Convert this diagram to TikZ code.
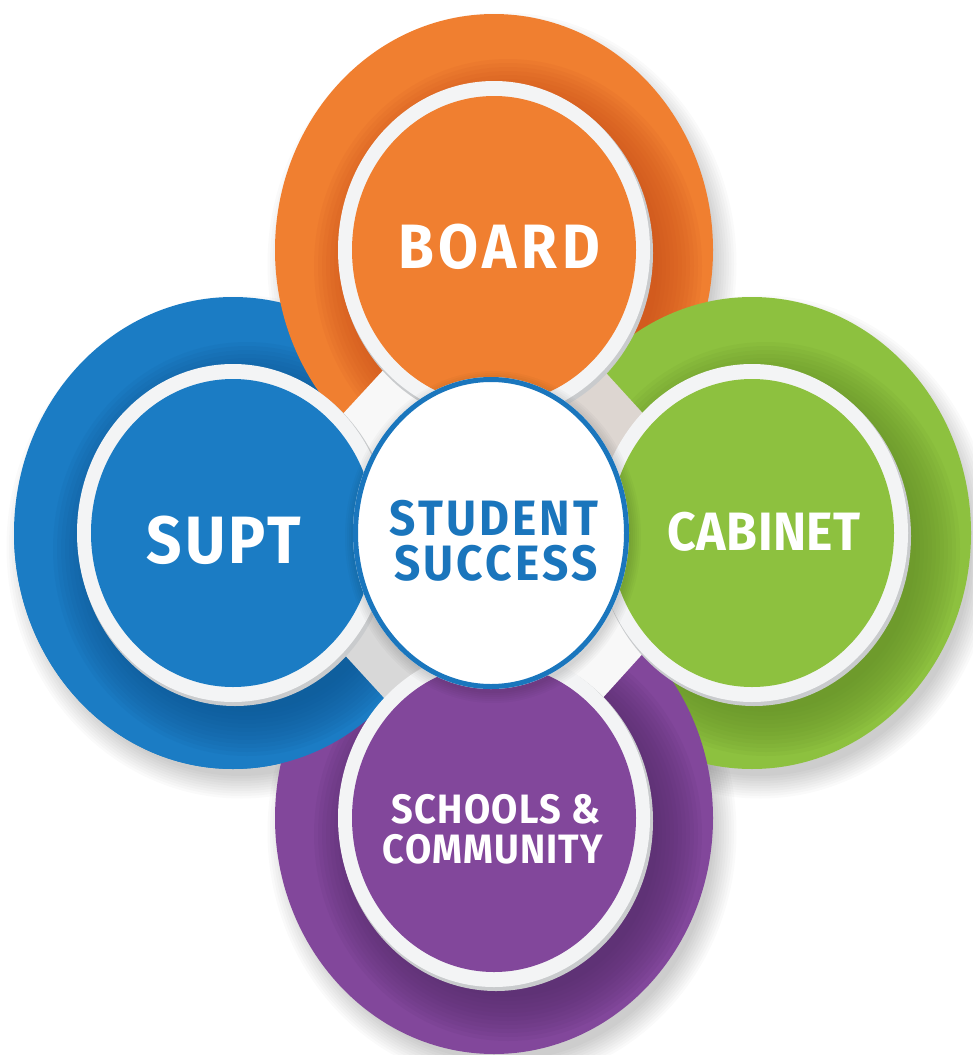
\documentclass[tikz,border=0pt]{standalone}
\usepackage{fontspec}
\setmainfont{Fira Sans}
\usepackage{graphicx}
\definecolor{corange}{HTML}{F07F30}
\definecolor{corangedark}{HTML}{C9501A}
\definecolor{cblue}{HTML}{1B7CC4}
\definecolor{cbluedark}{HTML}{0F5692}
\definecolor{cgreen}{HTML}{8DC13F}
\definecolor{cgreendark}{HTML}{648F28}
\definecolor{cpurple}{HTML}{82479B}
\definecolor{cpurpledark}{HTML}{552C6A}
\definecolor{ringwhite}{HTML}{F3F4F5}
\definecolor{ringgrey}{HTML}{C9CBCD}
\definecolor{cline}{HTML}{1A76BD}
\definecolor{ctext}{HTML}{1A75BC}
\definecolor{diamwhite}{HTML}{F8F8F8}
\definecolor{diamne}{HTML}{DDD6D1}
\definecolor{diamsw}{HTML}{D8D8D8}
\newcommand\outerdisc[4]{%
  \fill[#3] (#1,#2) ellipse [x radius=219pt, y radius=236pt];
  \begin{scope}
    \clip (#1,#2) ellipse [x radius=219pt, y radius=236pt];
    \foreach \k in {0,...,11} {%
      \pgfmathsetmacro\myrx{150+4*\k}\pgfmathsetmacro\myry{163+4*\k}%
      \fill[#4, opacity=0.09] (#1+14,#2+16) ellipse [x radius=\myrx pt, y radius=\myry pt];
    }
  \end{scope}}
\newcommand\innerdisc[3]{%
  \fill[ringgrey] (#1+2,#2+3) ellipse [x radius=157pt, y radius=170pt];
  \fill[ringwhite] (#1,#2) ellipse [x radius=156pt, y radius=169pt];
  \fill[#3] (#1,#2) ellipse [x radius=142pt, y radius=154pt];}
\newcommand\lsp[2]{{\addfontfeatures{LetterSpace=#1}\scalebox{1}[1.08]{#2}}}
\tikzset{
  lbl/.style={anchor=base, inner sep=0pt, text=white},
  clbl/.style={anchor=base, inner sep=0pt, text=ctext}
}
\begin{document}
\begin{tikzpicture}[x=1pt,y=-1pt]
\useasboundingbox (0,0) rectangle (972,1055);
\fill[white] (0,0) rectangle (972,1055);
% soft shadows on the background
\foreach \cx/\cy in {233/533, 494/250, 752/533, 494/818} {
  \foreach \k in {0,...,9} {%
    \pgfmathsetmacro\myrx{212+2.5*\k}\pgfmathsetmacro\myry{229+2.5*\k}%
    \fill[black, opacity=0.02] (\cx+8,\cy+14) ellipse [x radius=\myrx pt, y radius=\myry pt];
  }
}
% outer discs (cyclic overlap)
\outerdisc{233}{533}{cblue}{cbluedark}
\outerdisc{494}{250}{corange}{corangedark}
\outerdisc{752}{533}{cgreen}{cgreendark}
\outerdisc{494}{818}{cpurple}{cpurpledark}
\begin{scope}
  \clip (0,533) rectangle (470,1055);
  \outerdisc{233}{533}{cblue}{cbluedark}
\end{scope}
% central diamond linking the four circles
\coordinate (O) at (494,250);
\coordinate (G) at (752,533);
\coordinate (P) at (494,818);
\coordinate (B) at (233,533);
\coordinate (M) at (491,533);
\fill[diamwhite] (M) -- (B) -- (O) -- cycle;
\fill[diamne] (M) -- (O) -- (G) -- cycle;
\fill[diamwhite] (M) -- (G) -- (P) -- cycle;
\fill[diamsw] (M) -- (P) -- (B) -- cycle;
% inner discs
\innerdisc{494}{250}{corange}
\innerdisc{233}{533}{cblue}
\innerdisc{752}{533}{cgreen}
\innerdisc{494}{818}{cpurple}
% centre
\foreach \k in {0,...,5} {%
  \pgfmathsetmacro\myrx{138+2*\k}\pgfmathsetmacro\myry{156+2*\k}%
  \fill[black, opacity=0.025] (493,537) ellipse [x radius=\myrx pt, y radius=\myry pt];
}
\fill[white] (491,533) ellipse [x radius=138pt, y radius=156pt];
\draw[cline, line width=5pt] (491,533) ellipse [x radius=135.5pt, y radius=153.5pt];
% labels
\node[lbl, font=\fontsize{58}{58}\selectfont\bfseries] (board) at (499,268) {\lsp{8}{BOARD}};
\node[lbl, font=\fontsize{62}{62}\selectfont\bfseries] (supt) at (224,563) {\lsp{5}{SUPT}};
\node[lbl, font=\fontsize{50}{50}\selectfont\bfseries] (cabinet) at (764,550) {\lsp{1}{CABINET}};
\node[clbl, font=\fontsize{46}{46}\selectfont\bfseries] (student) at (494,535) {\lsp{7}{STUDENT}};
\node[clbl, font=\fontsize{46}{46}\selectfont\bfseries] (success) at (496,580) {\lsp{7}{SUCCESS}};
\node[lbl, font=\fontsize{38}{38}\selectfont\bfseries] (schools) at (496,823) {\lsp{3}{SCHOOLS \&}};
\node[lbl, font=\fontsize{38}{38}\selectfont\bfseries] (community) at (493,863) {\lsp{3}{COMMUNITY}};
\end{tikzpicture}
\end{document}
